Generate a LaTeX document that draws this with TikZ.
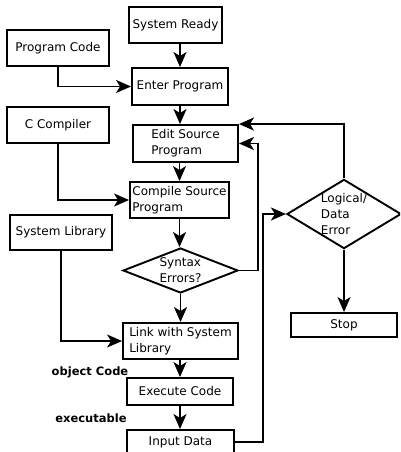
\documentclass[tikz,border=0pt]{standalone}
\usepackage{fontspec}
\setmainfont{DejaVu Sans}
\usepackage{tikz}
\usetikzlibrary{calc,arrows.meta,shapes.geometric}

\begin{document}
\begin{tikzpicture}[x=1pt,y=-1pt,line width=1.9pt,
  every node/.style={font=\fontsize{12}{16}\selectfont},
  box/.style={draw,rectangle,inner sep=2pt,align=left},
  chk/.style={draw,diamond,inner sep=0pt,align=left},
  arr/.style={-{Stealth[length=15pt,width=13pt,inset=4pt]}},
  tag/.style={font=\fontsize{11.5}{16}\selectfont\bfseries}]
\useasboundingbox (0,0) rectangle (400,452);
\clip (0,0) rectangle (400,452);
\node[box,minimum width=93pt,minimum height=36pt] (ready) at (175.5,25) {System Ready};
\node[box,minimum width=102pt,minimum height=36pt] (code) at (58,48) {Program Code};
\node[box,minimum width=96pt,minimum height=37pt] (enter) at (180,86.5) {Enter Program};
\node[box,minimum width=102pt,minimum height=36pt] (ccomp) at (58,125) {C Compiler};
\node[box,minimum width=105pt,minimum height=37pt] (edit) at (185.5,143.5) {Edit Source\\Program};
\node[box,minimum width=99pt,minimum height=36pt,inner sep=1pt] (compile) at (179.5,200) {Compile Source\\Program};
\node[box,minimum width=102pt,minimum height=35pt] (syslib) at (61,232.5) {System Library};
\node[chk,aspect=2.4,minimum width=115pt,minimum height=45pt] (syntax) at (180.5,270.5) {Syntax\\Errors?};
\node[box,minimum width=115pt,minimum height=36pt] (link) at (180.5,341) {Link with System\\Library};
\node[box,minimum width=106pt,minimum height=27pt] (execute) at (180,391.5) {Execute Code};
\node[box,minimum width=107pt,minimum height=24pt] (input) at (180.5,442) {Input Data};
\node[chk,aspect=1.65,minimum width=112pt,minimum height=68pt] (logic) at (344,214) {Logical/\\Data\\Error};
\node[box,minimum width=106pt,minimum height=24pt] (stop) at (344,325) {Stop};
\node[tag] (obj) at (90,372) {object Code};
\node[tag] (exe) at (91,418) {executable};
\coordinate (back) at (258,0);
\coordinate (run) at (263,0);

\draw[arr] (enter.north |- ready.south) -- (enter.north);
\draw[arr] (code.south) |- (enter.west);
\draw[arr] (enter.south) -- (enter.south |- edit.north);
\draw[arr] (compile.north |- edit.south) -- (compile.north);
\draw[arr] (ccomp.south) |- (compile.west);
\draw[arr] (compile.south) -- (compile.south |- syntax.north);
\draw[arr] (syntax.south) -- (syntax.south |- link.north);
\draw[arr] (syslib.south) |- (link.west);
\draw[arr] (execute.north |- link.south) -- (execute.north);
\draw[arr] (execute.south) -- (execute.south |- input.north);
\draw[arr] (syntax.east) -| (back |- edit.east) -- (edit.east);
\draw[arr] (input.east) -| (run |- logic.west) -- (logic.west);
\draw[arr] (logic.north) |- (edit.north east);
\draw[arr] (logic.south) -- (stop.north);
\end{tikzpicture}
\end{document}
